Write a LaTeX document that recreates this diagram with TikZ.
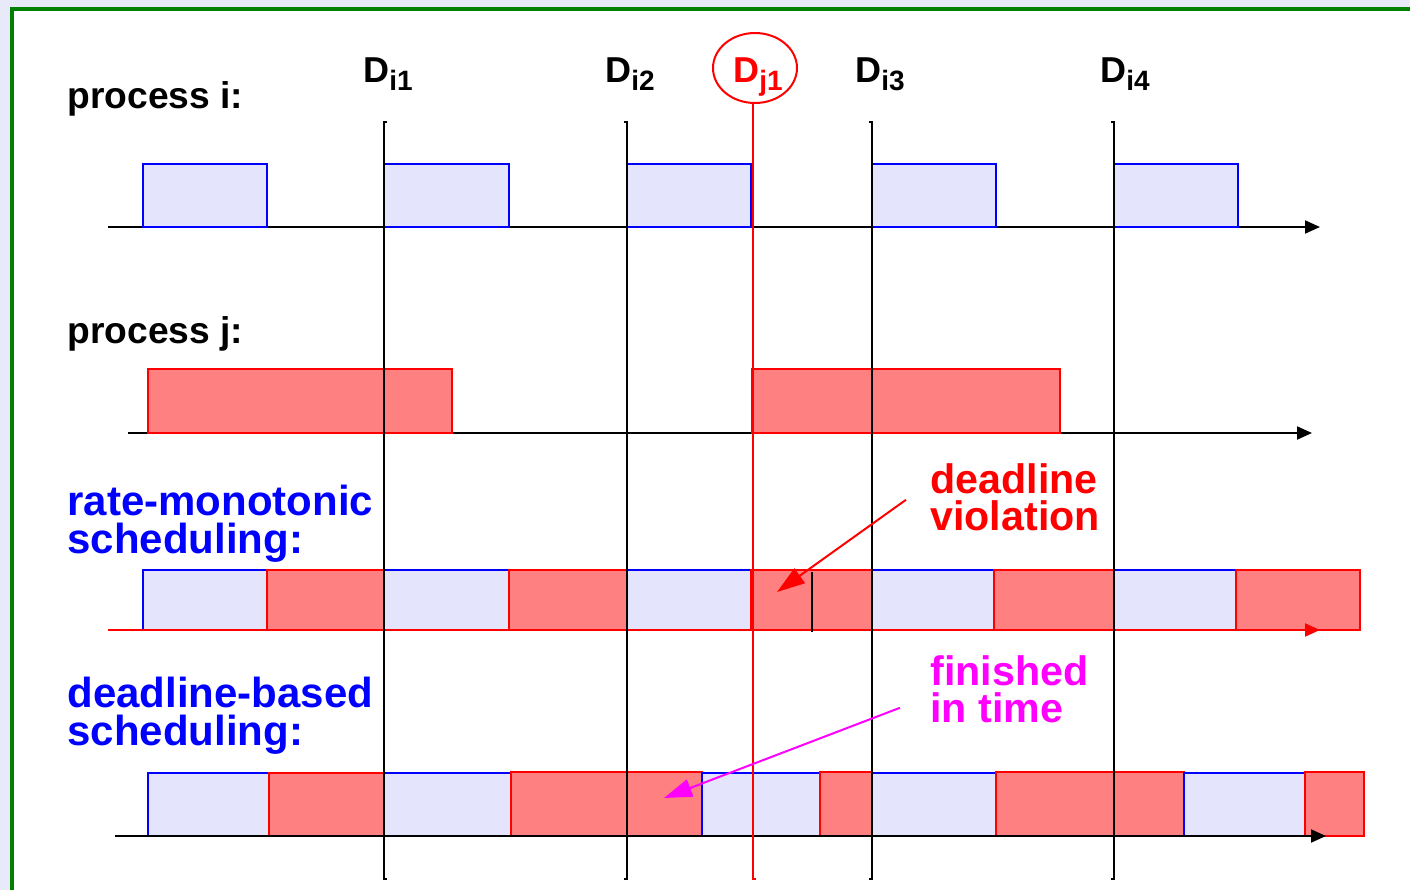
\documentclass[tikz,border=0pt]{standalone}
\usepackage{fontspec}
\setmainfont{Liberation Sans}
\usetikzlibrary{arrows.meta, shapes.geometric}

\definecolor{jobBlueFill}{RGB}{228,228,252}
\definecolor{jobRedFill}{RGB}{255,128,128}
\definecolor{slideBg}{RGB}{232,234,250}
\definecolor{frameGreen}{RGB}{0,128,0}
\definecolor{noteMagenta}{RGB}{255,0,255}

% lowered index after the D of a deadline
\newcommand{\dsub}[1]{\raisebox{-4pt}{\fontsize{14}{14}\selectfont #1}}

\tikzset{
  jobI/.style={draw=blue, fill=jobBlueFill, line width=1pt},
  jobJ/.style={draw=red, fill=jobRedFill, line width=1pt},
  timeAxis/.style={line width=1pt, -{Triangle[length=7.5pt,width=6.5pt]}},
  deadLine/.style={line width=0.95pt},
  dLabel/.style={anchor=base west, inner sep=0pt, font=\fontsize{18}{18}\selectfont\bfseries},
  procLabel/.style={anchor=base west, inner sep=0pt, font=\fontsize{18.6}{19}\selectfont\bfseries},
  schedLabel/.style={anchor=base west, inner sep=0pt, align=left, text=blue, font=\fontsize{21}{19}\selectfont\bfseries},
  noteLabel/.style={anchor=base west, inner sep=0pt, align=left, font=\fontsize{20.6}{18.5}\selectfont\bfseries},
  noteArr/.style={line width=1pt, -{Triangle[length=14pt,width=9pt]}},
}

\begin{document}
\begin{tikzpicture}[x=0.5pt, y=-0.5pt]
\useasboundingbox (0,0) rectangle (1410,890);
% slide background and frame
\fill[slideBg] (0,0) rectangle (1410,890);
\fill[white] (12,9) rectangle (1410,890);
\draw[frameGreen, line width=2pt] (12,890) -- (12,9) -- (1410,9);

% process i
\node (lblI) [procLabel] at (67,108) {process i:};
\draw[timeAxis] (108,227) -- (1320,227);
\draw[jobI] (143,164) rectangle (267,227);
\draw[jobI] (384,164) rectangle (509,227);
\draw[jobI] (627,164) rectangle (751,227);
\draw[jobI] (872,164) rectangle (996,227);
\draw[jobI] (1114,164) rectangle (1238,227);

% process j
\node (lblJ) [procLabel] at (67,343) {process j:};
\draw[timeAxis] (128,433) -- (1312,433);
\draw[jobJ] (148,369) rectangle (452,433);
\draw[jobJ] (752,369) rectangle (1060,433);

% rate-monotonic schedule (base = last line)
\node (lblRM) [schedLabel] at (67,553) {rate-monotonic\\scheduling:};
\draw[jobI] (143,570) rectangle (267,630);
\draw[jobJ] (267,570) rectangle (384,630);
\draw[jobI] (384,570) rectangle (509,630);
\draw[jobJ] (509,570) rectangle (627,630);
\draw[jobI] (627,570) rectangle (751,630);
\draw[jobJ] (751,570) rectangle (872,630);
\draw[jobI] (872,570) rectangle (994,630);
\draw[jobJ] (994,570) rectangle (1114,630);
\draw[jobI] (1114,570) rectangle (1236,630);
\draw[jobJ] (1236,570) rectangle (1360,630);
\draw[timeAxis, red] (108,630) -- (1320,630);
\draw[deadLine] (812,572) -- (812,632);

% deadline-based schedule
\node (lblDB) [schedLabel] at (67,745) {deadline-based\\scheduling:};
\draw[jobI] (148,773) rectangle (269,836);
\draw[jobJ] (269,773) rectangle (384,836);
\draw[jobI] (384,773) rectangle (511,836);
\draw[jobJ] (511,772) rectangle (702,836);
\draw[jobI] (702,773) rectangle (820,836);
\draw[jobJ] (820,772) rectangle (872,836);
\draw[jobI] (872,773) rectangle (996,836);
\draw[jobJ] (996,772) rectangle (1184,836);
\draw[jobI] (1184,773) rectangle (1305,836);
\draw[jobJ] (1305,772) rectangle (1364,836);
\draw[timeAxis] (115,836) -- (1326,836);

% deadlines
\node (di1) [dLabel] at (363,82) {D\dsub{i1}};
\node (di2) [dLabel] at (605,82) {D\dsub{i2}};
\node (di3) [dLabel] at (855,82) {D\dsub{i3}};
\node (di4) [dLabel] at (1100,82) {D\dsub{i4}};
\node (dj1) [dLabel, text=red] at (733,82) {D\dsub{j1}};
\node (dj1Ring) [ellipse, draw=red, line width=1pt, minimum width=42pt, minimum height=35pt, inner sep=0pt] at (755,68) {};
\coordinate (dj1Foot) at (753,879);

\draw[deadLine] (387,122) -- (384,122) -- (384,879) -- (387,879);
\draw[deadLine] (624,122) -- (627,122) -- (627,879) -- (624,879);
\draw[deadLine] (869,122) -- (872,122) -- (872,879) -- (869,879);
\draw[deadLine] (1111,122) -- (1114,122) -- (1114,879) -- (1111,879);
\draw[deadLine, red] (dj1Ring.south -| dj1Foot) -- (dj1Foot) -- ++(3,0);

% notes
\node (viol) [noteLabel, text=red] at (930,530) {deadline\\violation};
\node (fin) [noteLabel, text=noteMagenta] at (930,722) {finished\\in time};
\coordinate (violTip) at (777,592);
\coordinate (finTip) at (664,798);
\draw[noteArr, red] ([xshift=-12pt,yshift=-1.5pt]viol.west) -- (violTip);
\draw[noteArr, noteMagenta] ([xshift=-15pt,yshift=-9.5pt]fin.west) -- (finTip);
\end{tikzpicture}
\end{document}
